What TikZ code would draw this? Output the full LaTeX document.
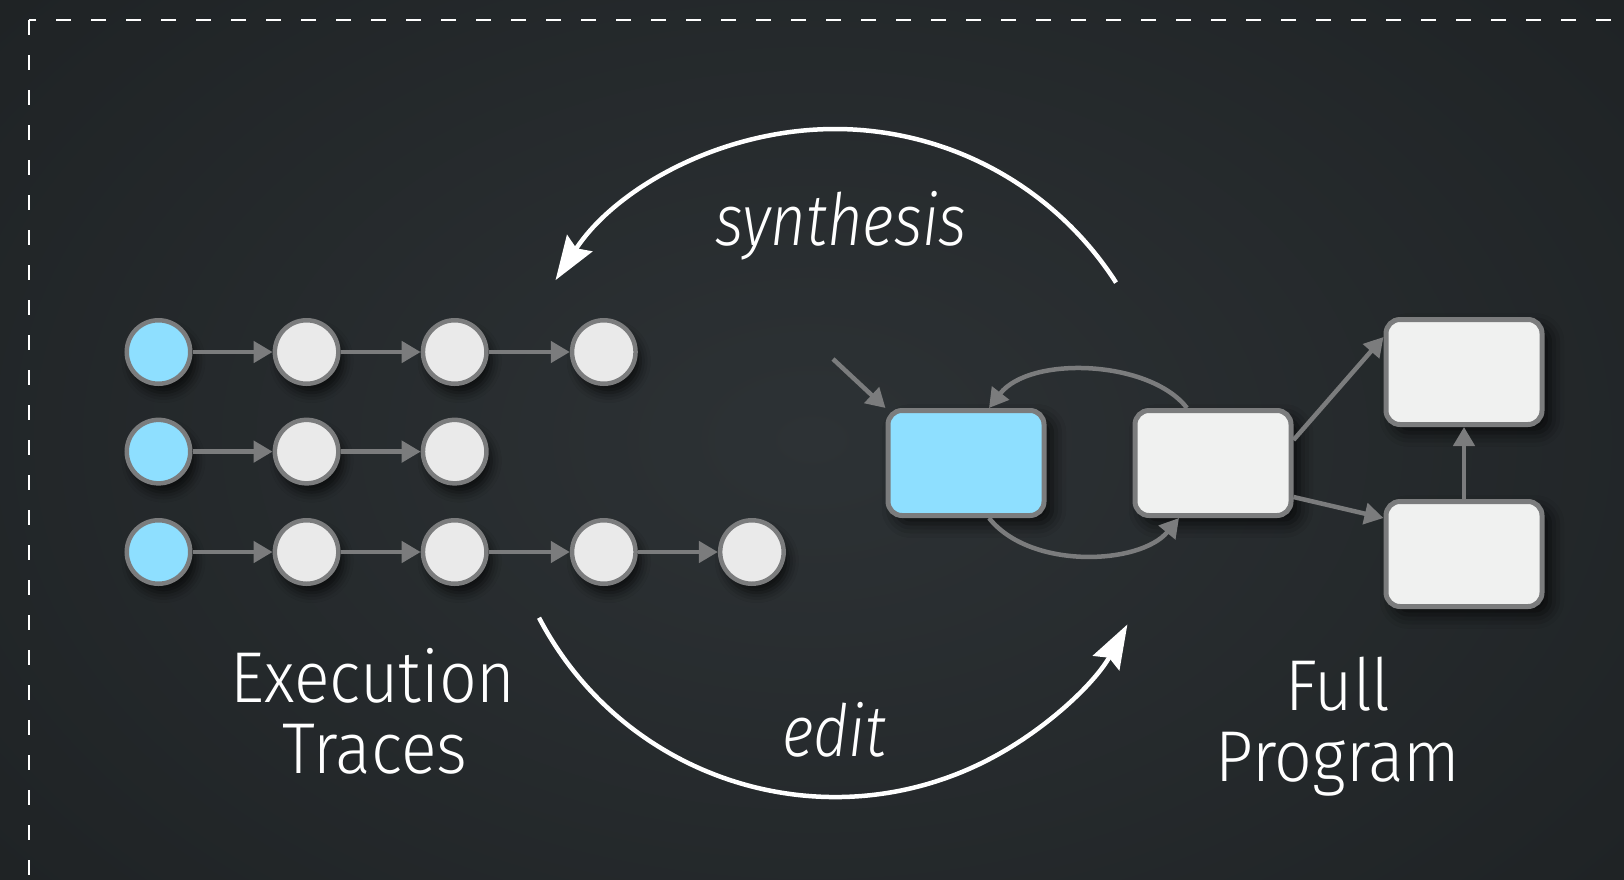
\documentclass[tikz,border=0pt]{standalone}
\usepackage{fontspec}
\setmainfont{Fira Sans}[UprightFont=* Light, ItalicFont=* Light Italic,
  UprightFeatures={FakeStretch=0.92}, ItalicFeatures={FakeStretch=0.85}]
\usetikzlibrary{arrows.meta,shadows.blur,calc}
\definecolor{bgouter}{HTML}{1E2224}
\definecolor{bginner}{HTML}{2D3235}
\definecolor{nodeblue}{HTML}{8EDFFF}
\definecolor{nodegray}{HTML}{EAEAEA}
\definecolor{boxwhite}{HTML}{F0F1F0}
\definecolor{edgegray}{HTML}{7B7C7D}
\tikzset{
  tcirc/.style={circle, draw=edgegray, line width=4.5pt, minimum size=63.5pt, inner sep=0pt,
    blur shadow={shadow xshift=5pt, shadow yshift=-9pt, shadow blur radius=10pt, shadow opacity=70}},
  tbox/.style={rectangle, rounded corners=14pt, draw=edgegray, line width=5pt, minimum width=156pt, minimum height=105pt, inner sep=0pt,
    blur shadow={shadow xshift=8pt, shadow yshift=-8pt, shadow blur radius=14pt, shadow opacity=75}},
  garrow/.style={draw=edgegray, line width=4.5pt, -{Triangle[length=19pt,width=21pt]}},
  bigarrow/.style={draw=white, line width=4.5pt, -{Stealth[length=44pt,width=30pt,inset=6pt]}},
  biglabel/.style={text=white, font=\fontsize{72}{72}\selectfont, anchor=base, inner sep=0pt},
}
\begin{document}
\begin{tikzpicture}[x=1pt,y=-1pt]
\useasboundingbox (0,0) rectangle (1624,879);
\shade[inner color=bginner, outer color=bgouter] (-300,-300) rectangle (1924,1179);
\begin{scope}
\clip (0,0) rectangle (1624,879);
\draw[white, line width=2pt, dash pattern=on 15pt off 20pt] (29,20) rectangle (1700,960);
\end{scope}

% execution traces
\node[tcirc, fill=nodeblue] (a1) at (158.5,352) {};
\node[tcirc, fill=nodegray] (a2) at (306.6,352) {};
\node[tcirc, fill=nodegray] (a3) at (454.7,352) {};
\node[tcirc, fill=nodegray] (a4) at (603.8,352) {};
\node[tcirc, fill=nodeblue] (b1) at (158.5,451.6) {};
\node[tcirc, fill=nodegray] (b2) at (306.6,451.6) {};
\node[tcirc, fill=nodegray] (b3) at (454.7,451.6) {};
\node[tcirc, fill=nodeblue] (c1) at (158.5,552) {};
\node[tcirc, fill=nodegray] (c2) at (306.6,552) {};
\node[tcirc, fill=nodegray] (c3) at (454.7,552) {};
\node[tcirc, fill=nodegray] (c4) at (603.8,552) {};
\node[tcirc, fill=nodegray] (c5) at (751.9,552) {};
\draw[garrow] (a1) -- (a2);
\draw[garrow] (a2) -- (a3);
\draw[garrow] (a3) -- (a4);
\draw[garrow] (b1) -- (b2);
\draw[garrow] (b2) -- (b3);
\draw[garrow] (c1) -- (c2);
\draw[garrow] (c2) -- (c3);
\draw[garrow] (c3) -- (c4);
\draw[garrow] (c4) -- (c5);

% program graph
\node[tbox, fill=nodeblue] (p1) at (966,463) {};
\node[tbox, fill=boxwhite] (p2) at (1213,463) {};
\node[tbox, fill=boxwhite] (p3) at (1464,372) {};
\node[tbox, fill=boxwhite] (p4) at (1464,554) {};
\coordinate (pin) at (833,359);
\draw[garrow] (pin) -- (p1.north west);
\draw[garrow] ([xshift=-26pt]p2.north) .. controls (1150,360) and (1030,355) .. ([xshift=23pt]p1.north);
\draw[garrow] ([xshift=23pt]p1.south) .. controls (1030,570) and (1140,565) .. ([xshift=-34pt]p2.south);
\draw[garrow] ([yshift=23pt]p2.east) -- ([yshift=35pt]p3.west);
\draw[garrow] ([yshift=-34pt]p2.east) -- ([yshift=36pt]p4.west);
\draw[garrow] (p4.north) -- (p3.south);

% big cycle
\coordinate (cyc) at (835,463);
\draw[bigarrow] ($(cyc)+(-32.7:334)$) arc[start angle=-32.7, end angle=-146.8, radius=334];
\draw[bigarrow] ($(cyc)+(152.4:334)$) arc[start angle=152.4, end angle=28.9, radius=334];

% labels
\node[biglabel, font=\itshape\fontsize{72}{72}\selectfont] (syn) at (841,245) {synthesis};
\node[biglabel, font=\itshape\fontsize{72}{72}\selectfont] (edt) at (834,756) {edit};
\node[biglabel] (ex1) at (373,702) {Execution};
\node[biglabel] (ex2) at (375,773) {Traces};
\node[biglabel] (fp1) at (1338,710) {Full};
\node[biglabel] (fp2) at (1338,781) {Program};
\end{tikzpicture}
\end{document}
